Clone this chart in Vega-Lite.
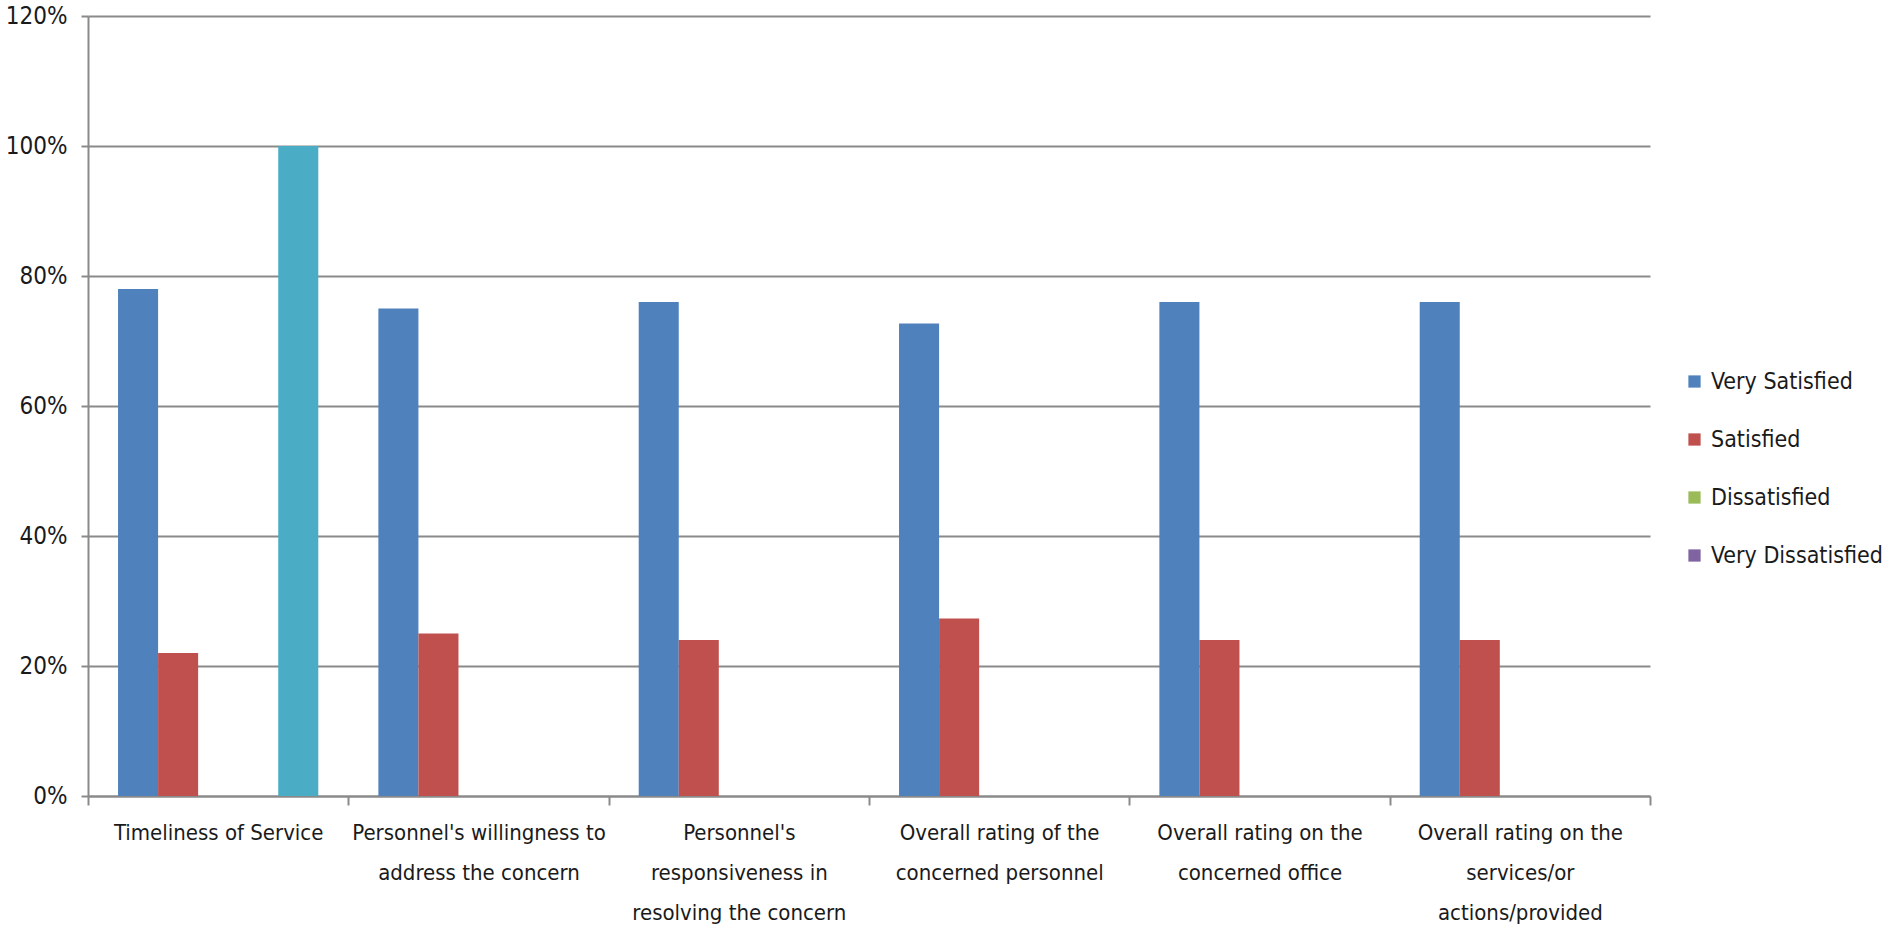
{
  "$schema": "https://vega.github.io/schema/vega-lite/v6.json",
  "width": 1562,
  "height": 780,
  "autosize": {"type": "none"},
  "padding": {"left": 88, "top": 16, "right": 239, "bottom": 134},
  "background": "white",
  "config": {
    "view": {"stroke": null},
    "font": "Liberation Sans Narrow, DejaVu Sans Condensed, sans-serif"
  },
  "data": {
    "values": [
      {"item": "Timeliness of Service", "rating": "Very Satisfied", "share": 0.78},
      {"item": "Timeliness of Service", "rating": "Satisfied", "share": 0.22},
      {"item": "Timeliness of Service", "rating": "Dissatisfied", "share": 0},
      {"item": "Timeliness of Service", "rating": "Very Dissatisfied", "share": 0},
      {"item": "Timeliness of Service", "rating": "Series5", "share": 1.0},
      {"item": "Personnel's willingness to|address the concern", "rating": "Very Satisfied", "share": 0.75},
      {"item": "Personnel's willingness to|address the concern", "rating": "Satisfied", "share": 0.25},
      {"item": "Personnel's willingness to|address the concern", "rating": "Dissatisfied", "share": 0},
      {"item": "Personnel's willingness to|address the concern", "rating": "Very Dissatisfied", "share": 0},
      {"item": "Personnel's|responsiveness in|resolving the concern", "rating": "Very Satisfied", "share": 0.76},
      {"item": "Personnel's|responsiveness in|resolving the concern", "rating": "Satisfied", "share": 0.24},
      {"item": "Personnel's|responsiveness in|resolving the concern", "rating": "Dissatisfied", "share": 0},
      {"item": "Personnel's|responsiveness in|resolving the concern", "rating": "Very Dissatisfied", "share": 0},
      {"item": "Overall rating of the|concerned personnel", "rating": "Very Satisfied", "share": 0.727},
      {"item": "Overall rating of the|concerned personnel", "rating": "Satisfied", "share": 0.273},
      {"item": "Overall rating of the|concerned personnel", "rating": "Dissatisfied", "share": 0},
      {"item": "Overall rating of the|concerned personnel", "rating": "Very Dissatisfied", "share": 0},
      {"item": "Overall rating on the|concerned office", "rating": "Very Satisfied", "share": 0.76},
      {"item": "Overall rating on the|concerned office", "rating": "Satisfied", "share": 0.24},
      {"item": "Overall rating on the|concerned office", "rating": "Dissatisfied", "share": 0},
      {"item": "Overall rating on the|concerned office", "rating": "Very Dissatisfied", "share": 0},
      {"item": "Overall rating on the|services/or|actions/provided", "rating": "Very Satisfied", "share": 0.76},
      {"item": "Overall rating on the|services/or|actions/provided", "rating": "Satisfied", "share": 0.24},
      {"item": "Overall rating on the|services/or|actions/provided", "rating": "Dissatisfied", "share": 0},
      {"item": "Overall rating on the|services/or|actions/provided", "rating": "Very Dissatisfied", "share": 0}
    ]
  },
  "mark": {"type": "bar"},
  "encoding": {
    "x": {
      "field": "item",
      "type": "nominal",
      "sort": null,
      "title": null,
      "scale": {"paddingInner": 0, "paddingOuter": 0},
      "axis": {
        "labelExpr": "split(datum.label, '|')",
        "labelAngle": 0,
        "labelAlign": "center",
        "labelBaseline": "top",
        "labelFontSize": 22,
        "labelLineHeight": 40,
        "labelColor": "#1a1a1a",
        "labelPadding": 17,
        "labelLimit": 400,
        "tickBand": "extent",
        "tickSize": 9,
        "tickWidth": 2,
        "tickColor": "#8a8a8a",
        "domainColor": "#8a8a8a",
        "domainWidth": 2,
        "grid": false
      }
    },
    "xOffset": {
      "field": "rating",
      "type": "nominal",
      "scale": {
        "domain": ["Very Satisfied", "Satisfied", "Dissatisfied", "Very Dissatisfied", "Series5"],
        "paddingInner": 0,
        "paddingOuter": 0.75
      }
    },
    "y": {
      "field": "share",
      "type": "quantitative",
      "title": null,
      "scale": {"domain": [0, 1.2], "nice": false},
      "axis": {
        "values": [0, 0.2, 0.4, 0.6, 0.8, 1.0, 1.2],
        "format": ".0%",
        "labelFontSize": 24,
        "labelColor": "#1a1a1a",
        "labelPadding": 14,
        "tickSize": 7,
        "tickWidth": 2,
        "tickColor": "#8a8a8a",
        "domainColor": "#8a8a8a",
        "domainWidth": 2,
        "gridColor": "#8a8a8a",
        "gridWidth": 2
      }
    },
    "color": {
      "field": "rating",
      "type": "nominal",
      "scale": {
        "domain": ["Very Satisfied", "Satisfied", "Dissatisfied", "Very Dissatisfied", "Series5"],
        "range": ["#4F81BD", "#C0504D", "#9BBB59", "#8064A2", "#4BACC6"]
      },
      "legend": {
        "values": ["Very Satisfied", "Satisfied", "Dissatisfied", "Very Dissatisfied"],
        "title": null,
        "orient": "none",
        "legendX": 1595,
        "legendY": 354,
        "symbolType": "square",
        "symbolSize": 150,
        "symbolStrokeWidth": 0,
        "labelFontSize": 23,
        "labelColor": "#1a1a1a",
        "labelOffset": 5,
        "labelLimit": 300,
        "rowPadding": 34
      }
    }
  }
}
